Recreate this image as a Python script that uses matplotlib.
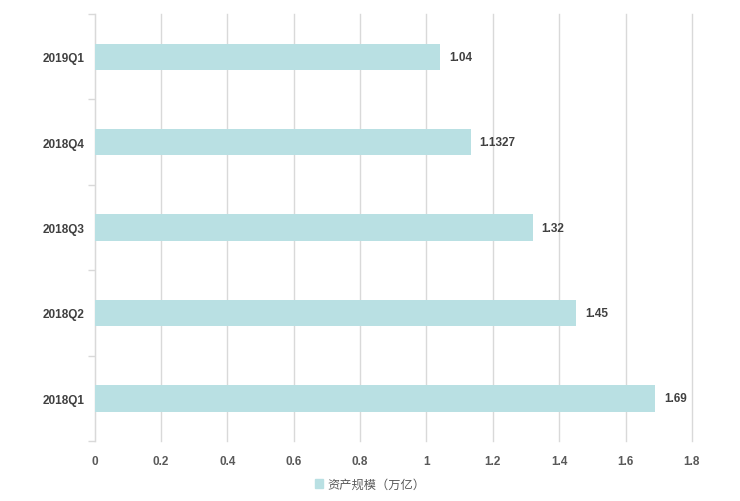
import numpy as np
import matplotlib.pyplot as plt
from matplotlib.patches import Patch

### Data.
quarters = ["2018Q1", "2018Q2", "2018Q3", "2018Q4", "2019Q1"]
asset_size = [1.69, 1.45, 1.32, 1.1327, 1.04]
value_labels = ["1.69", "1.45", "1.32", "1.1327", "1.04"]
x_ticks = [0, 0.2, 0.4, 0.6, 0.8, 1, 1.2, 1.4, 1.6, 1.8]
legend_label = "资产规模（万亿）"

bar_color = "#b9e0e3"
text_color = "#404040"

plt.rcParams["font.family"] = ["Liberation Sans", "Noto Sans CJK SC", "DejaVu Sans"]

fig = plt.figure(figsize=(7.4, 5.02), dpi=100)
ax = fig.add_axes([0.128, 0.1195, 0.807, 0.8505])

y = np.arange(len(quarters))
ax.barh(y, asset_size, height=0.31, color=bar_color, zorder=3)

# Value labels to the right of each bar.
for yi, v, lab in zip(y, asset_size, value_labels):
    ax.annotate(lab, (v, yi), xytext=(6.5, 0), textcoords="offset points",
                va="center", ha="left", fontsize=8.5, fontweight="bold", color=text_color)

ax.set_xlim(0, 1.8)
ax.set_ylim(-0.5, len(quarters) - 0.5)
ax.set_xticks(x_ticks)
ax.set_xticklabels([("%g" % t) for t in x_ticks], fontsize=8.5, fontweight="bold", color="#595959")
ax.tick_params(axis="x", length=0, pad=10)

# Category labels, with small tick marks between categories.
ax.set_yticks(y)
ax.set_yticklabels(quarters, fontsize=8.5, fontweight="bold", color=text_color)
ax.tick_params(axis="y", which="major", length=0, pad=7)
ax.set_yticks(np.arange(-0.5, len(quarters)), minor=True)
ax.tick_params(axis="y", which="minor", length=5, color="#d9d9d9", width=1)

ax.grid(axis="x", color="#d9d9d9", linewidth=1, zorder=0, clip_on=False)
for side in ["top", "right", "bottom"]:
    ax.spines[side].set_visible(False)
ax.spines["left"].set_color("#d9d9d9")

fig.legend(handles=[Patch(color=bar_color, label=legend_label)],
           loc="center", bbox_to_anchor=(0.5, 0.032), frameon=False,
           fontsize=8.8, labelcolor="#595959", handlelength=0.7, handleheight=0.7,
           handletextpad=0.3)

fig.savefig("out.png", dpi=100)
